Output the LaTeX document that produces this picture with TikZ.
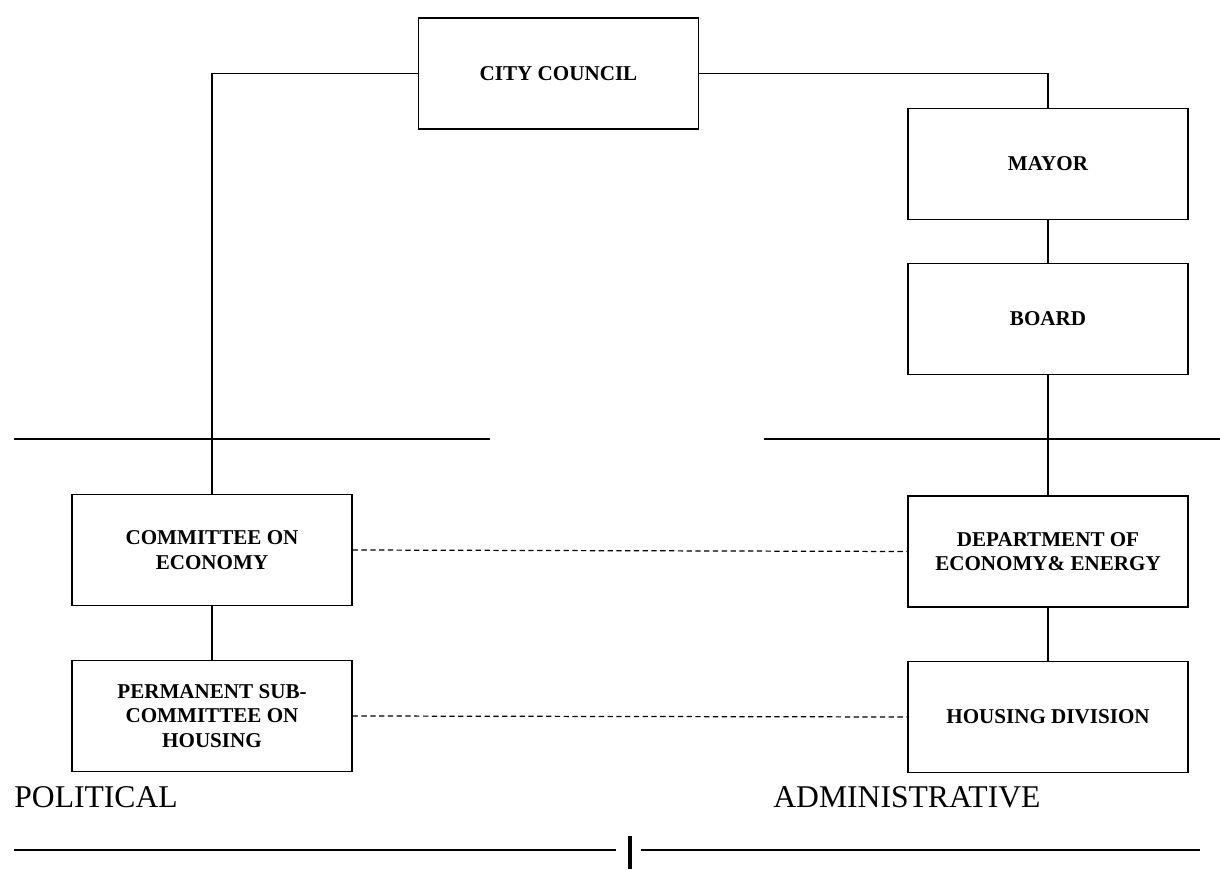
\documentclass[tikz,border=0pt]{standalone}
\usepackage{fontspec}
\setmainfont{Liberation Serif}
\usetikzlibrary{positioning}

\tikzset{
  unitbox/.style={draw, line width=0.8pt, minimum width=5.6cm, minimum height=2.22cm,
    align=center, font=\fontsize{12}{14}\selectfont\bfseries},
  link/.style={line width=0.8pt},
  peer/.style={line width=0.7pt, dashed, dash pattern=on 3pt off 2pt},
  sidelabel/.style={anchor=base west, inner sep=0pt, font=\fontsize{18}{21}\selectfont}
}

\begin{document}
\begin{tikzpicture}
  \useasboundingbox (0,0) rectangle (24.4,17.38);

  % Cima: consejo municipal
  \node[unitbox] (council) at (11.17,15.91) {CITY COUNCIL};

  % Columna administrativa
  \node[unitbox] (mayor) at (20.96,14.1) {MAYOR};
  \node[unitbox] (board) at (20.96,11.0) {BOARD};
  \node[unitbox] (dept) at (20.96,6.35) {DEPARTMENT OF\\ECONOMY\& ENERGY};
  \node[unitbox] (housdiv) at (20.96,3.04) {HOUSING DIVISION};

  % Columna politica
  \node[unitbox] (econcom) at (4.24,6.38) {COMMITTEE ON\\ECONOMY};
  \node[unitbox] (subcom) at (4.24,3.06) {PERMANENT SUB-\\COMMITTEE ON\\HOUSING};

  % Lineas de mando
  \draw[link] (council.west) -| (econcom.north);
  \draw[link] (council.east) -| (mayor.north);
  \draw[link] (mayor) -- (board);
  \draw[link] (board) -- (dept);
  \draw[link] (dept) -- (housdiv);
  \draw[link] (econcom) -- (subcom);

  % Enlaces entre ambos lados
  \draw[peer] (econcom.east) -- (dept.west);
  \draw[peer] (subcom.east) -- (housdiv.west);

  % Separadores horizontales
  \coordinate (sepL1) at (0.28,8.6);
  \coordinate (sepL2) at (9.8,8.6);
  \coordinate (sepR1) at (15.28,8.6);
  \coordinate (sepR2) at (24.4,8.6);
  \draw[link] (sepL1) -- (sepL2);
  \draw[link] (sepR1) -- (sepR2);

  % Etiquetas inferiores
  \node[sidelabel] (political) at (0.28,1.24) {POLITICAL};
  \node[sidelabel] (admin) at (15.46,1.24) {ADMINISTRATIVE};

  \coordinate (baseL1) at (0.28,0.38);
  \coordinate (baseL2) at (12.32,0.38);
  \coordinate (baseR1) at (12.82,0.38);
  \coordinate (baseR2) at (24.0,0.38);
  \coordinate (barTop) at (12.6,0.66);
  \coordinate (barBot) at (12.6,0);
  \draw[line width=1.4pt] (baseL1) -- (baseL2);
  \draw[line width=1.4pt] (baseR1) -- (baseR2);
  \draw[line width=2.2pt] (barTop) -- (barBot);
\end{tikzpicture}
\end{document}
